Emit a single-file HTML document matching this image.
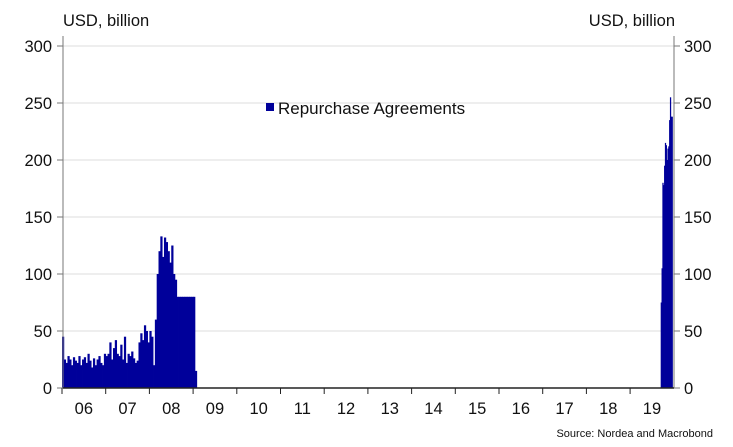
<!DOCTYPE html>
<html><head><meta charset="utf-8"><style>
body{margin:0;background:#fff;}
svg{display:block;font-family:"Liberation Sans",sans-serif;}
</style></head><body>
<svg id="chart" width="733" height="447" viewBox="0 0 733 447">
<g id="grid"></g>
<g id="bars"></g>
<g id="axes"></g>
<text x="63" y="26" font-size="16.5" fill="#111">USD, billion</text>
<text x="675" y="26" font-size="16.5" fill="#111" text-anchor="end">USD, billion</text>
<rect x="266" y="103" width="8" height="8" fill="#00009a"/>
<text x="278" y="114" font-size="17" fill="#111">Repurchase Agreements</text>
<text x="713" y="437" font-size="11" fill="#111" text-anchor="end">Source: Nordea and Macrobond</text>
</svg>
<script>
const yearLabels=["06","07","08","09","10","11","12","13","14","15","16","17","18","19"];
const yTicks=[0,50,100,150,200,250,300];
// Early period: semi-monthly values starting 2006.0
const earlyStart=2006.0;
const earlyValues=[45,25,22,28,25,20,27,24,22,28,20,25,27,22,30,24,18,26,20,25,28,22,20,30,
28,30,40,25,35,42,30,28,38,25,45,22,30,28,32,26,22,24,40,48,42,55,50,40,
50,45,20,60,100,120,133,115,132,128,120,110,125,100,95,80,80,80,80,80,80,80,80,80,
80,15];
// Late period: weekly values starting 2019.7
const lateStart=2019.7;
const lateValues=[75,105,180,178,195,215,213,200,210,212,235,255,238,238];
const x0=62,yearW=43.7,y0=388,yPer=1.14;
const X=t=>x0+(t-2006)*yearW;
const Y=v=>y0-v*yPer;
const ns="http://www.w3.org/2000/svg";
function mk(tag,attrs,parent){const e=document.createElementNS(ns,tag);for(const k in attrs)e.setAttribute(k,attrs[k]);document.getElementById(parent).appendChild(e);return e;}
yTicks.forEach(v=>{
 if(v>0){const g=mk("line",{x1:63,x2:674,y1:Y(v),y2:Y(v),stroke:"#dcdcdc","stroke-width":1},"grid");
 
 }
 const l=mk("text",{x:52,y:Y(v)+6,"font-size":16.5,"text-anchor":"end",fill:"#111"},"axes");l.textContent=v;
 
 
 const r=mk("text",{x:684,y:Y(v)+6,"font-size":16.5,fill:"#111"},"axes");r.textContent=v;
 
 
 mk("line",{x1:57,x2:63,y1:Y(v),y2:Y(v),stroke:"#777"},"axes");
 mk("line",{x1:674,x2:680,y1:Y(v),y2:Y(v),stroke:"#777"},"axes");
});
function drawSeries(start,step,vals){
 vals.forEach((v,i)=>{const xa=X(start+i*step),xb=X(start+(i+1)*step);
  const b=mk("rect",{x:xa,y:Y(v),width:xb-xa+0.4,height:v*yPer,fill:"#00009a"},"bars");
  
  });
}
drawSeries(earlyStart,1/24,earlyValues);
drawSeries(lateStart,1/52,lateValues);
mk("line",{x1:63,x2:63,y1:36,y2:388,stroke:"#777"},"axes");
mk("line",{x1:674,x2:674,y1:36,y2:388,stroke:"#777"},"axes");
mk("line",{x1:63,x2:674,y1:388,y2:388,stroke:"#222","stroke-width":1.5},"axes");
yearLabels.forEach((lab,i)=>{
 const t=2006+i;
 mk("line",{x1:X(t),x2:X(t),y1:388,y2:394,stroke:"#222"},"axes");
 const tx=mk("text",{x:X(t+0.5),y:414,"font-size":16.5,"text-anchor":"middle",fill:"#111"},"axes");tx.textContent=lab;
 
 
});
</script>
</body></html>
